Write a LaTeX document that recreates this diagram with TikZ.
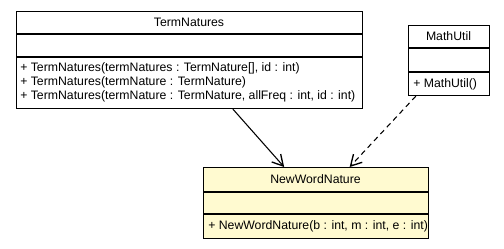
\documentclass[tikz,border=0pt]{standalone}
\usepackage{fontspec}
\setmainfont{Liberation Sans}
\usetikzlibrary{arrows.meta}
\definecolor{notefill}{RGB}{255,250,208}
\begin{document}
\begin{tikzpicture}[x=0.75pt,y=-0.75pt,
  classbox/.style={draw=black, line width=0.8pt, rectangle, inner sep=0pt, anchor=north west},
  divider/.style={draw=black, line width=0.8pt},
  lbl/.style={font=\fontsize{9.2}{11}\selectfont, inner sep=0pt},
  member/.style={lbl, anchor=west},
  assoc/.style={draw=black, line width=0.8pt, -{Straight Barb[length=8pt,width=9pt,line width=1pt]}},
  depend/.style={assoc, dash pattern=on 4pt off 3pt}]
\useasboundingbox (0,0) rectangle (504,248);

% TermNatures
\node[classbox, minimum width=259.5pt, minimum height=72.75pt] (tn) at (16,11) {};
\draw[divider] (16,34) -- (362,34);
\draw[divider] (16,57) -- (362,57);
\node[lbl] (tnt) at (189,22.5) {TermNatures};
\node[member] (tn1) at (20,68) {+ TermNatures(termNatures : TermNature[], id : int)};
\node[member] (tn2) at (20,82) {+ TermNatures(termNature : TermNature)};
\node[member] (tn3) at (20,96) {+ TermNatures(termNature : TermNature, allFreq : int, id : int)};

% MathUtil
\node[classbox, minimum width=60.75pt, minimum height=52.5pt] (mu) at (408,25) {};
\draw[divider] (408,48) -- (489,48);
\draw[divider] (408,72) -- (489,72);
\node[lbl] (mut) at (448.5,36.5) {MathUtil};
\node[member] (mu1) at (413,84) {+ MathUtil()};

% NewWordNature
\node[classbox, fill=notefill, minimum width=168.75pt, minimum height=53.25pt] (nw) at (203,167) {};
\draw[divider] (203,192) -- (428,192);
\draw[divider] (203,214) -- (428,214);
\node[lbl] (nwt) at (315.5,179.5) {NewWordNature};
\node[member] (nw1) at (208,226) {+ NewWordNature(b : int, m : int, e : int)};

% relations
\draw[assoc] (tn) -- (nw);
\draw[depend] (mu) -- (nw);
\end{tikzpicture}
\end{document}
